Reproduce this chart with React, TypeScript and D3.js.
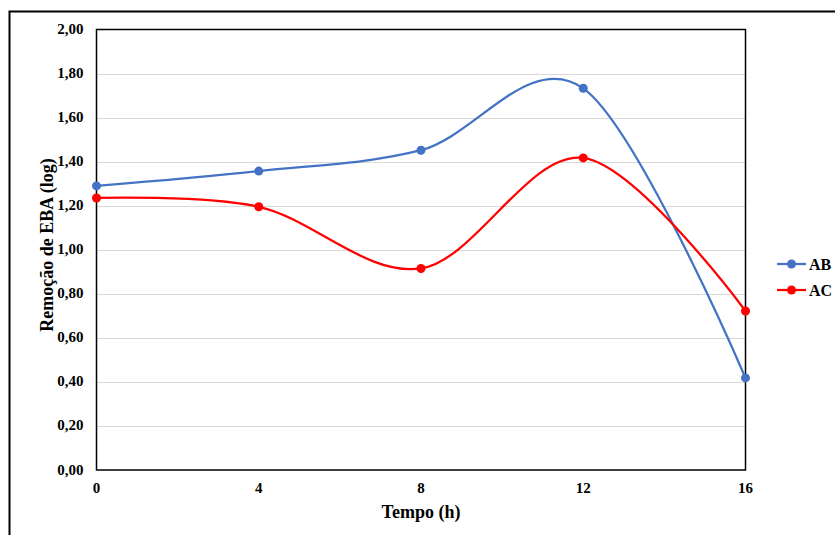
import React from "react";
import * as d3 from "d3";

const times = [0, 4, 8, 12, 16];
const abValues = [1.29, 1.357, 1.452, 1.733, 0.418];
const acValues = [1.235, 1.195, 0.915, 1.417, 0.722];
const yTicks = [0, 0.2, 0.4, 0.6, 0.8, 1.0, 1.2, 1.4, 1.6, 1.8, 2.0];
const seriesNames = ["AB", "AC"];
const seriesColors = ["#4472C4", "#FF0000"];

export default function App() {
  const W = 835, H = 535;
  const left = 96.5, right = 745.5, top = 29.5, bottom = 470;
  const x = d3.scaleLinear().domain([0, 16]).range([left, right]);
  const y = d3.scaleLinear().domain([0, 2]).range([bottom, top]);
  const fmt = (v: number) => v.toFixed(2).replace(".", ",");
  const line = d3
    .line<number>()
    .x((_, i) => x(times[i]))
    .y((d) => y(d))
    .curve(d3.curveCatmullRom.alpha(0));
  const series = [abValues, acValues];
  const font = "'Liberation Serif', 'Times New Roman', serif";
  return (
    <svg
      width={W}
      height={H}
      style={{ position: "absolute", left: 0, top: 0, background: "#fff" }}
      fontFamily={font}
    >
      <rect x={0} y={0} width={W} height={H} fill="#fff" />
      <rect x={9.5} y={11.5} width={1000} height={700} fill="none" stroke="#000" strokeWidth={2} />
      {yTicks.map((t) =>
        t > 0 && t < 2 ? (
          <line key={"g" + t} x1={left} x2={right} y1={Math.round(y(t)) + 0.5} y2={Math.round(y(t)) + 0.5} stroke="#d9d9d9" strokeWidth={1} />
        ) : null
      )}
      <rect x={left} y={top} width={right - left} height={bottom - top} fill="none" stroke="#000" strokeWidth={1.5} />
      {yTicks.map((t) => (
        <text key={"yt" + t} x={83.5} y={y(t)} dy="0.3em" textAnchor="end" fontSize={15} fontWeight="bold">
          {fmt(t)}
        </text>
      ))}
      {times.map((t) => (
        <text key={"xt" + t} x={x(t)} y={488} dy="0.35em" textAnchor="middle" fontSize={15} fontWeight="bold">
          {t}
        </text>
      ))}
      <text x={421} y={512} dy="0.35em" textAnchor="middle" fontSize={18} fontWeight="bold">
        Tempo (h)
      </text>
      <text
        transform={`translate(47,${245}) rotate(-90)`}
        dy="0.35em"
        textAnchor="middle"
        fontSize={18}
        fontWeight="bold"
      >
        Remoção de EBA (log)
      </text>
      {series.map((vals, s) => (
        <g key={"s" + s}>
          <path d={line(vals) || ""} fill="none" stroke={seriesColors[s]} strokeWidth={2.25} />
          {vals.map((v, i) => (
            <circle key={i} cx={x(times[i])} cy={y(v)} r={4.5} fill={seriesColors[s]} />
          ))}
        </g>
      ))}
      {seriesNames.map((n, s) => {
        const ly = 264 + s * 26;
        return (
          <g key={"l" + n}>
            <line x1={777} x2={806} y1={ly} y2={ly} stroke={seriesColors[s]} strokeWidth={2.25} />
            <circle cx={791.5} cy={ly} r={4.5} fill={seriesColors[s]} />
            <text x={809} y={ly} dy="0.35em" fontSize={16} fontWeight="bold">
              {n}
            </text>
          </g>
        );
      })}
    </svg>
  );
}
